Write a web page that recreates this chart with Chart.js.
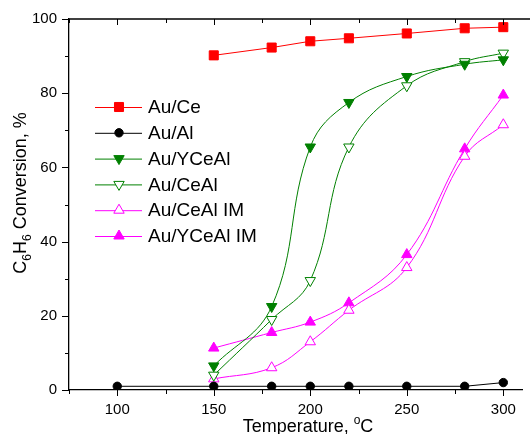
<!DOCTYPE html>
<html>
<head>
<meta charset="utf-8">
<script src="https://cdn.jsdelivr.net/npm/chart.js@4.4.0/dist/chart.umd.min.js"></script>
<style>
  html, body { margin: 0; padding: 0; background: #fff; }
  #wrap { width: 530px; height: 434px; position: relative; }
</style>
</head>
<body>
<div id="wrap"><canvas id="chart"></canvas></div>
<script>
// temperatures, °C
const tempAl = [100, 150, 180, 200, 220, 250, 280, 300];
const temps = [150, 180, 200, 220, 250, 280, 300];

// conversion, %
const auCe = [90.2, 92.3, 94.0, 94.8, 96.1, 97.5, 97.8];
const auAl = [1, 1, 1, 1, 1, 1, 1, 2];
const auYCeAl = [6.5, 22.5, 65.5, 77.5, 84.5, 87.8, 89.0];
const auCeAl = [4.0, 19.0, 29.5, 65.5, 82.0, 88.5, 90.8];
const auCeAlIM = [3.0, 6.0, 13.0, 21.5, 33.0, 63.0, 71.5];
const auYCeAlIM = [11.3, 15.5, 18.3, 23.5, 36.5, 65.0, 79.5];

const xTickLabels = [100, 150, 200, 250, 300];
const yTickLabels = [0, 20, 40, 60, 80, 100];

const GREEN = "#008000";
const MAGENTA = "#ff00ff";

function pts(xs, ys) {
  return xs.map((x, i) => ({ x: x, y: ys[i] }));
}

function series(label, xs, ys, color, style, opts) {
  return Object.assign({
    label: label,
    data: pts(xs, ys),
    showLine: true,
    borderColor: color,
    backgroundColor: color,
    borderWidth: 1,
    pointStyle: style,
    pointRadius: 6,
    pointBorderColor: color,
    pointBackgroundColor: color,
    pointBorderWidth: 1,
    tension: 0,
  }, opts || {});
}

const datasets = [
  series("Au/Ce", temps, auCe, "#ff0000", "rect", { pointRadius: 6.4 }),
  series("Au/Al", tempAl, auAl, "#000000", "circle", { pointRadius: 4.2 }),
  series("Au/YCeAl", temps, auYCeAl, GREEN, "triangle", { pointRotation: 180, tension: 0.4 }),
  series("Au/CeAl", temps, auCeAl, GREEN, "triangle", { pointRotation: 180, pointBackgroundColor: "#fff", tension: 0.4 }),
  series("Au/CeAl IM", temps, auCeAlIM, MAGENTA, "triangle", { pointBackgroundColor: "#fff", tension: 0.4 }),
  series("Au/YCeAl IM", temps, auYCeAlIM, MAGENTA, "triangle", { tension: 0.4 }),
];

const FONT = "'Liberation Sans', Arial, sans-serif";

// axis frame, tick marks, titles and in-plot legend
const decor = {
  id: "decor",
  afterDraw(chart) {
    const ctx = chart.ctx;
    const a = chart.chartArea;
    const xs = chart.scales.x;
    const ys = chart.scales.y;
    ctx.save();
    ctx.strokeStyle = "#000";
    ctx.lineWidth = 1.3;
    ctx.beginPath();
    ctx.moveTo(a.left, a.top);
    ctx.lineTo(chart.width, a.top);
    ctx.stroke();

    ctx.lineWidth = 1;
    ctx.beginPath();
    for (let v = 75; v <= xs.max; v += 25) {
      const px = Math.round(xs.getPixelForValue(v)) + 0.5;
      const len = v % 50 === 0 ? 6 : 4;
      ctx.moveTo(px, a.bottom);
      ctx.lineTo(px, a.bottom + len);
      ctx.moveTo(px, a.top);
      ctx.lineTo(px, a.top + len);
    }
    for (let v = 0; v <= 100; v += 10) {
      const py = Math.round(ys.getPixelForValue(v)) + 0.5;
      const len = v % 20 === 0 ? 7 : 4;
      ctx.moveTo(a.left, py);
      ctx.lineTo(a.left - len, py);
    }
    ctx.stroke();

    // x title
    ctx.fillStyle = "#000";
    ctx.textBaseline = "alphabetic";
    ctx.font = "18px " + FONT;
    const t1 = "Temperature, ";
    const w1 = ctx.measureText(t1).width;
    ctx.font = "12px " + FONT;
    const w2 = ctx.measureText("o").width;
    ctx.font = "18px " + FONT;
    const w3 = ctx.measureText("C").width;
    let x0 = 308 - (w1 + w2 + w3) / 2;
    const by = 432;
    ctx.textAlign = "left";
    ctx.fillText(t1, x0, by);
    ctx.font = "12px " + FONT;
    ctx.fillText("o", x0 + w1, by - 8);
    ctx.font = "18px " + FONT;
    ctx.fillText("C", x0 + w1 + w2, by);

    // y title, rotated with subscripts
    ctx.save();
    ctx.translate(26, 193);
    ctx.rotate(-Math.PI / 2);
    const parts = [["C", 18, 0], ["6", 12, 5], ["H", 18, 0], ["6", 12, 5], [" Conversion, %", 18, 0]];
    let total = 0;
    parts.forEach(p => { ctx.font = p[1] + "px " + FONT; total += ctx.measureText(p[0]).width; });
    let cx = -total / 2;
    parts.forEach(p => {
      ctx.font = p[1] + "px " + FONT;
      ctx.fillText(p[0], cx, p[2]);
      cx += ctx.measureText(p[0]).width;
    });
    ctx.restore();

    // legend
    chart.data.datasets.forEach((ds, i) => {
      const y = 107 + i * 25.8;
      ctx.strokeStyle = ds.borderColor;
      ctx.lineWidth = 1;
      ctx.beginPath();
      ctx.moveTo(95, y + 0.5);
      ctx.lineTo(142, y + 0.5);
      ctx.stroke();
      ctx.fillStyle = ds.pointBackgroundColor;
      ctx.strokeStyle = ds.pointBorderColor;
      Chart.helpers.drawPoint(ctx, {
        pointStyle: ds.pointStyle,
        radius: ds.pointRadius,
        rotation: ds.pointRotation || 0,
        borderWidth: 1,
      }, 119, y);
      ctx.fillStyle = "#000";
      ctx.font = "19px " + FONT;
      ctx.textAlign = "left";
      ctx.textBaseline = "middle";
      ctx.fillText(ds.label, 148, y + 1);
    });
    ctx.restore();
  },
};

new Chart(document.getElementById("chart"), {
  type: "scatter",
  data: { datasets: datasets },
  options: {
    responsive: true,
    maintainAspectRatio: false,
    animation: false,
    layout: { padding: { top: 19, left: 0, right: -9, bottom: 0 } },
    plugins: { legend: { display: false }, tooltip: { enabled: false } },
    scales: {
      x: {
        type: "linear",
        min: 75,
        max: 310,
        grid: { display: false, drawTicks: false },
        border: { display: true, color: "#000", width: 1.3 },
        afterBuildTicks: (s) => { s.ticks = xTickLabels.map(v => ({ value: v })); },
        afterFit: (s) => { s.height = 44; s.paddingRight = 0; s.paddingLeft = 0; },
        ticks: {
          padding: 11,
          color: "#000",
          font: { size: 15, family: FONT },
          maxRotation: 0,
        },
      },
      y: {
        min: 0,
        max: 100,
        grid: { display: false, drawTicks: false },
        border: { display: true, color: "#000", width: 1.3 },
        afterBuildTicks: (s) => { s.ticks = yTickLabels.map(v => ({ value: v })); },
        afterFit: (s) => { s.width = 69; s.paddingTop = 0; s.paddingBottom = 0; },
        ticks: {
          padding: 12,
          color: "#000",
          font: { size: 15, family: FONT },
        },
      },
    },
  },
  plugins: [decor],
});
</script>
</body>
</html>
